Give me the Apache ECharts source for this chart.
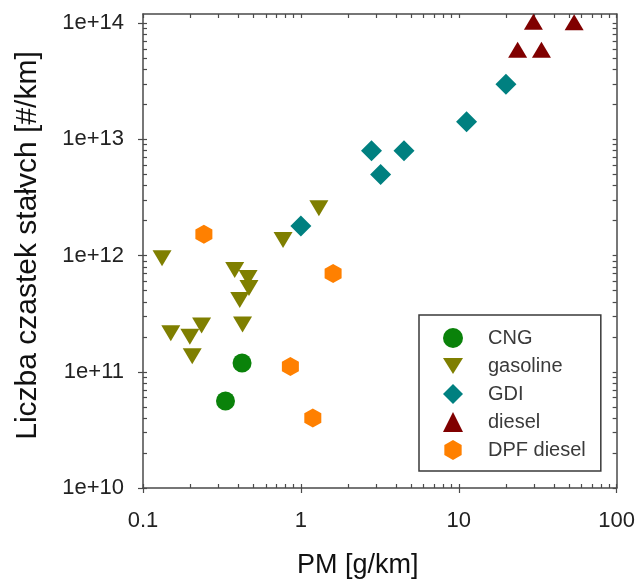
<!DOCTYPE html>
<html>
<head>
<meta charset="utf-8">
<script src="https://cdn.jsdelivr.net/npm/echarts@6/dist/echarts.min.js"></script>
<style>
  html, body { margin: 0; padding: 0; background: #fff; }
  #chart { width: 638px; height: 585px; }
</style>
</head>
<body>
<div id="chart"></div>
<script>
// Particle number vs. PM mass emission, by vehicle / fuel type
var cngX = [0.424, 0.333];
var cngY = [1.19e11, 5.6e10];

var gasolineX = [0.132, 0.381, 0.463, 0.469, 0.41, 0.427, 0.15, 0.235, 0.198, 0.205, 0.771, 1.3];
var gasolineY = [9.5e11, 7.5e11, 6.4e11, 5.25e11, 4.15e11, 2.55e11, 2.15e11, 2.5e11, 2.0e11, 1.36e11, 1.36e12, 2.56e12];

var gdiX = [1.0, 2.8, 3.2, 4.5, 11.2, 19.9];
var gdiY = [1.8e12, 8.0e12, 5.0e12, 8.0e12, 1.42e13, 2.98e13];

var dieselX = [29.7, 53.8, 23.6, 33.4];
var dieselY = [1.03e14, 1.02e14, 5.9e13, 5.9e13];

var dpfX = [0.243, 1.6, 0.858, 1.19];
var dpfY = [1.53e12, 7.0e11, 1.11e11, 4.0e10];

var seriesNames = ['CNG', 'gasoline', 'GDI', 'diesel', 'DPF diesel'];

var xTicks = [0.1, 1, 10, 100];
var xTickLabels = ['0.1', '1', '10', '100'];
var yTicks = [1e10, 1e11, 1e12, 1e13, 1e14];
var yTickLabels = ['1e+10', '1e+11', '1e+12', '1e+13', '1e+14'];

var xTitle = 'PM [g/km]';
var yTitle = 'Liczba czastek stałvch [#/km]';

// minor ticks: 1..9 within each decade, up to the last major tick
function decadeTicks(majors) {
  var out = [];
  for (var i = 0; i < majors.length - 1; i++) {
    for (var k = 1; k <= 9; k++) out.push(majors[i] * k);
  }
  out.push(majors[majors.length - 1]);
  return out;
}
var xMinor = decadeTicks(xTicks);
var yMinor = decadeTicks(yTicks);

function pairs(xs, ys) {
  return xs.map(function (x, i) { return [x, ys[i]]; });
}

var FONT = '"Liberation Sans", Arial, sans-serif';
var FRAME = '#4a4a4a';
var xMin = 0.1, xMax = 100, yMin = 1e10, yMax = 1.2e14;

var hexagon = 'path://M0,-1 L0.866,-0.5 L0.866,0.5 L0,1 L-0.866,0.5 L-0.866,-0.5 Z';
var triangleDown = 'path://M-1,-0.8 L1,-0.8 L0,0.8 Z';

function frameAxis(position, opts) {
  var base = {
    type: 'log', logBase: 10, position: position,
    splitLine: { show: false },
    axisLine: { show: true, onZero: false, lineStyle: { color: FRAME, width: 1.5 } },
    axisLabel: { show: false },
    axisTick: { show: false }
  };
  return Object.assign(base, opts);
}

var chart = echarts.init(document.getElementById('chart'), null, { renderer: 'canvas' });

chart.setOption({
  backgroundColor: '#ffffff',
  animation: false,
  grid: { left: 143, right: 20, top: 14, bottom: 97, containLabel: false },
  legend: {
    orient: 'vertical',
    left: 419, top: 315,
    padding: [13, 15, 11, 24],
    itemWidth: 20, itemHeight: 20, itemGap: 8,
    borderColor: '#3a3a3a', borderWidth: 1.5, borderRadius: 0,
    textStyle: { fontFamily: FONT, fontSize: 20, color: '#3a3a3a', padding: [0, 0, 0, 20], lineHeight: 20 },
    data: seriesNames
  },
  xAxis: [
    frameAxis('bottom', {
      min: xMin, max: xMax,
      axisTick: { show: true, inside: true, length: 4, customValues: xMinor, lineStyle: { color: FRAME, width: 1.2 } },
      axisLabel: {
        show: true, customValues: xTicks, margin: 22,
        fontFamily: FONT, fontSize: 22, color: '#222',
        formatter: function (v) { return xTickLabels[xTicks.indexOf(v)] || String(v); }
      },
      name: xTitle, nameLocation: 'middle', nameGap: 64,
      nameTextStyle: { fontFamily: FONT, fontSize: 27, color: '#111', padding: [0, 44, 0, 0] }
    }),
    frameAxis('bottom', {
      min: xMin, max: xMax,
      axisLine: { show: false },
      axisTick: { show: true, inside: false, length: 5, customValues: xTicks, lineStyle: { color: FRAME, width: 1.2 } }
    }),
    frameAxis('top', {
      min: xMin, max: xMax,
      axisTick: { show: true, inside: true, length: 4, customValues: xMinor, lineStyle: { color: FRAME, width: 1.2 } }
    })
  ],
  yAxis: [
    frameAxis('left', {
      min: yMin, max: yMax,
      axisTick: { show: true, inside: true, length: 4, customValues: yMinor, lineStyle: { color: FRAME, width: 1.2 } },
      axisLabel: {
        show: true, customValues: yTicks, margin: 19,
        fontFamily: FONT, fontSize: 22, color: '#222',
        formatter: function (v) {
          var e = Math.round(Math.log(v) / Math.LN10);
          return yTickLabels[e - 10];
        }
      },
      name: yTitle, nameLocation: 'middle', nameGap: 100, nameRotate: 90,
      nameTextStyle: { fontFamily: FONT, fontSize: 30, color: '#111', padding: [0, 0, 0, 11] }
    }),
    frameAxis('left', {
      min: yMin, max: yMax,
      axisLine: { show: false },
      axisTick: { show: true, inside: false, length: 5, customValues: yTicks, lineStyle: { color: FRAME, width: 1.2 } }
    }),
    frameAxis('right', {
      min: yMin, max: yMax,
      axisTick: { show: true, inside: true, length: 4, customValues: yMinor, lineStyle: { color: FRAME, width: 1.2 } }
    })
  ],
  series: [
    {
      name: 'CNG', type: 'scatter', data: pairs(cngX, cngY),
      symbol: 'circle', symbolSize: 19,
      itemStyle: { color: '#0a820a', opacity: 1 }
    },
    {
      name: 'gasoline', type: 'scatter', data: pairs(gasolineX, gasolineY),
      symbol: triangleDown, symbolSize: [19, 16], symbolKeepAspect: false,
      itemStyle: { color: '#7f7f00', opacity: 1 }
    },
    {
      name: 'GDI', type: 'scatter', data: pairs(gdiX, gdiY),
      symbol: 'diamond', symbolSize: [21, 21],
      itemStyle: { color: '#008080', opacity: 1 }
    },
    {
      name: 'diesel', type: 'scatter', data: pairs(dieselX, dieselY),
      symbol: 'triangle', symbolSize: [19, 16],
      itemStyle: { color: '#800000', opacity: 1 }
    },
    {
      name: 'DPF diesel', type: 'scatter', data: pairs(dpfX, dpfY),
      symbol: hexagon, symbolSize: [17, 19], symbolKeepAspect: false,
      itemStyle: { color: '#ff8000', opacity: 1 }
    }
  ]
});
</script>
</body>
</html>
